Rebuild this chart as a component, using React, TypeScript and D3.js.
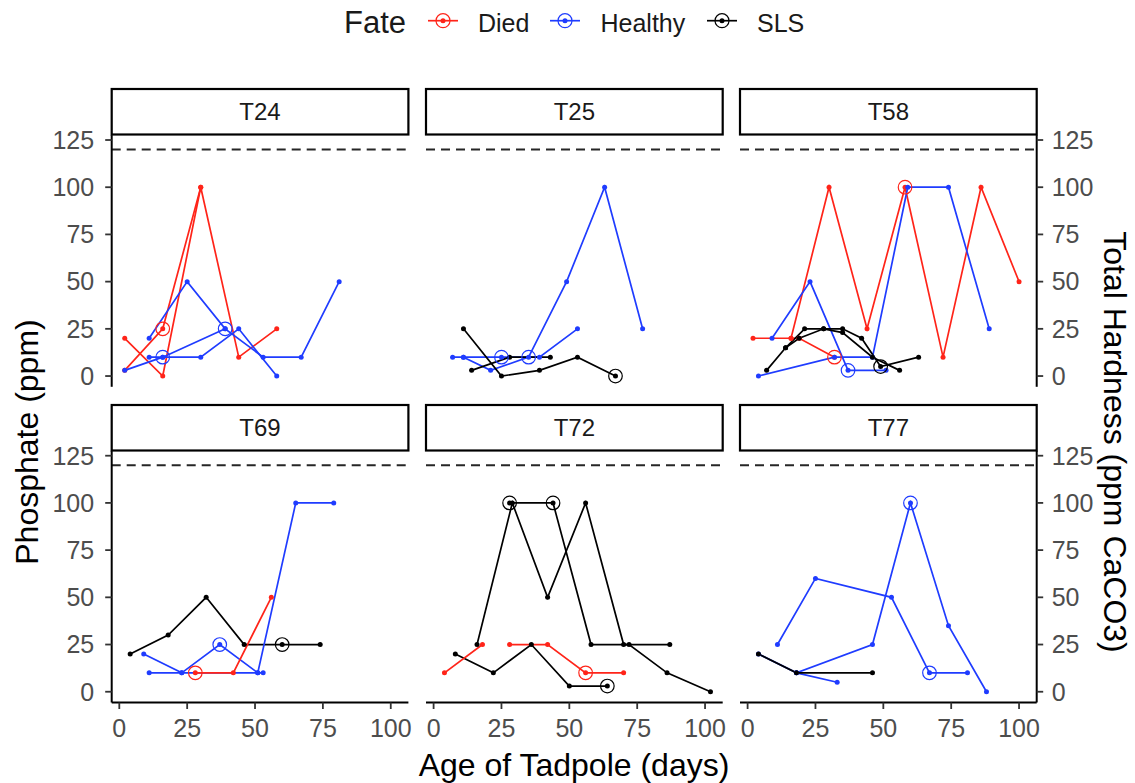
import React from "react";
import * as d3 from "d3";

type Pt = [number, number];
interface Track { fate: string; pts: Pt[] }
interface Mark { fate: string; pt: Pt }

// Facet labels and legend categories
const panels = ["T24", "T25", "T58", "T69", "T72", "T77"];
const fates = ["Died", "Healthy", "SLS"];
const fateColors: Record<string, string> = { Died: "#ff2419", Healthy: "#1f3cff", SLS: "#000000" };

const xTicks = [0, 25, 50, 75, 100];
const yTicks = [0, 25, 50, 75, 100, 125];
const limitLine = 120;

// Phosphate readings (age in days, ppm) per tadpole, grouped by tank
const tracksT24: Track[] = [
  { fate: "Died", pts: [[2, 20], [16, 0], [30, 100], [44, 10], [58, 25]] },
  { fate: "Died", pts: [[2, 3], [16, 25], [30, 100]] },
  { fate: "Healthy", pts: [[11, 20], [25, 50], [39, 25], [53, 10], [67, 10], [81, 50]] },
  { fate: "Healthy", pts: [[2, 3], [16, 10], [39, 25]] },
  { fate: "Healthy", pts: [[11, 10], [16, 10], [30, 10], [44, 25], [58, 0]] },
];
const tracksT25: Track[] = [
  { fate: "Healthy", pts: [[7, 10], [11, 10], [25, 10], [39, 10], [53, 25]] },
  { fate: "Healthy", pts: [[11, 10], [21, 3], [35, 10], [49, 50], [63, 100], [77, 25]] },
  { fate: "SLS", pts: [[11, 25], [25, 0], [39, 3], [53, 10], [67, 0]] },
  { fate: "SLS", pts: [[14, 3], [28, 10], [43, 10]] },
];
const tracksT58: Track[] = [
  { fate: "Died", pts: [[2, 20], [16, 20], [30, 100], [44, 25], [58, 100], [72, 10], [86, 100], [100, 50]] },
  { fate: "Died", pts: [[16, 20], [19, 20], [32, 10]] },
  { fate: "Healthy", pts: [[4, 0], [32, 10], [46, 10], [59, 100], [74, 100], [89, 25]] },
  { fate: "Healthy", pts: [[9, 20], [23, 50], [37, 3], [51, 3]] },
  { fate: "SLS", pts: [[7, 3], [14, 15], [21, 25], [28, 25], [35, 25], [42, 20], [49, 5], [63, 10]] },
  { fate: "SLS", pts: [[14, 15], [19, 20], [28, 25], [35, 23], [46, 10], [56, 3]] },
];
const tracksT69: Track[] = [
  { fate: "SLS", pts: [[4, 20], [18, 30], [32, 50], [46, 25], [60, 25], [74, 25]] },
  { fate: "Healthy", pts: [[9, 20], [23, 10], [37, 25], [51, 10], [53, 10]] },
  { fate: "Healthy", pts: [[11, 10], [23, 10], [51, 10], [65, 100], [79, 100]] },
  { fate: "Died", pts: [[28, 10], [42, 10], [56, 50]] },
];
const tracksT72: Track[] = [
  { fate: "SLS", pts: [[16, 25], [29, 100], [42, 50], [56, 100], [70, 25], [87, 25]] },
  { fate: "SLS", pts: [[28, 100], [44, 100], [58, 25], [72, 25], [86, 10], [102, 0]] },
  { fate: "SLS", pts: [[8, 20], [22, 10], [36, 25], [50, 3], [64, 3]] },
  { fate: "Died", pts: [[4, 10], [18, 25]] },
  { fate: "Died", pts: [[28, 25], [42, 25], [56, 10], [70, 10]] },
];
const tracksT77: Track[] = [
  { fate: "Healthy", pts: [[11, 25], [25, 60], [53, 50], [67, 10], [81, 10]] },
  { fate: "Healthy", pts: [[4, 20], [18, 10], [46, 25], [60, 100], [74, 35], [88, 0]] },
  { fate: "Healthy", pts: [[18, 10], [33, 5]] },
  { fate: "SLS", pts: [[4, 20], [18, 10], [46, 10]] },
];

// Readings flagged with an open ring
const ringsT24: Mark[] = [
  { fate: "Died", pt: [16, 25] },
  { fate: "Healthy", pt: [16, 10] },
  { fate: "Healthy", pt: [39, 25] },
];
const ringsT25: Mark[] = [
  { fate: "Healthy", pt: [25, 10] },
  { fate: "Healthy", pt: [35, 10] },
  { fate: "SLS", pt: [67, 0] },
];
const ringsT58: Mark[] = [
  { fate: "Died", pt: [58, 100] },
  { fate: "Died", pt: [32, 10] },
  { fate: "Healthy", pt: [37, 3] },
  { fate: "SLS", pt: [49, 5] },
];
const ringsT69: Mark[] = [
  { fate: "Died", pt: [28, 10] },
  { fate: "Healthy", pt: [37, 25] },
  { fate: "SLS", pt: [60, 25] },
];
const ringsT72: Mark[] = [
  { fate: "SLS", pt: [28, 100] },
  { fate: "SLS", pt: [44, 100] },
  { fate: "SLS", pt: [64, 3] },
  { fate: "Died", pt: [56, 10] },
];
const ringsT77: Mark[] = [
  { fate: "Healthy", pt: [60, 100] },
  { fate: "Healthy", pt: [67, 10] },
];

const panelTracks = [tracksT24, tracksT25, tracksT58, tracksT69, tracksT72, tracksT77];
const panelRings = [ringsT24, ringsT25, ringsT58, ringsT69, ringsT72, ringsT77];

// Layout
const W = 1135;
const H = 783;
const FONT = "'Liberation Sans', Arial, Helvetica, sans-serif";
const colLeft = [111.7, 426, 740];
const panelW = 296.7;
const stripTop = [89, 405];
const stripH = 45.5;
const panelTop = [135.1, 450.8];
const panelBottom = [386.8, 702.5];
const xDomain: [number, number] = [-2.8, 106.5];
const yDomain: [number, number] = [-5.7, 127.6];

const tickColor = "#333333";
const tickText = "#4d4d4d";
const tickSize = 25;
const titleSize = 32;

function Panel({ idx }: { idx: number }) {
  const col = idx % 3;
  const row = Math.floor(idx / 3);
  const x = d3.scaleLinear().domain(xDomain).range([colLeft[col], colLeft[col] + panelW]);
  const y = d3.scaleLinear().domain(yDomain).range([panelBottom[row], panelTop[row]]);
  const line = d3
    .line<Pt>()
    .x((d) => x(d[0]))
    .y((d) => y(d[1]));
  const tracks = panelTracks[idx];
  const rings = panelRings[idx];
  const x0 = colLeft[col];
  const x1 = colLeft[col] + panelW;
  const bottomRow = row === 1;

  return (
    <g>
      {/* strip */}
      <rect
        x={x0}
        y={stripTop[row]}
        width={panelW}
        height={stripH}
        fill="#ffffff"
        stroke="#000000"
        strokeWidth={2.2}
      />
      <text
        x={(x0 + x1) / 2}
        y={stripTop[row] + stripH / 2 + 8.5}
        textAnchor="middle"
        fontSize={24}
        fill="#1a1a1a"
        fontFamily={FONT}
      >
        {panels[idx]}
      </text>

      {/* reference line */}
      <line
        x1={x0}
        x2={x1}
        y1={y(limitLine)}
        y2={y(limitLine)}
        stroke="#262626"
        strokeWidth={2}
        strokeDasharray="9,6"
      />

      {/* tracks */}
      {tracks.map((t, i) => (
        <path key={"l" + i} d={line(t.pts) || ""} fill="none" stroke={fateColors[t.fate]} strokeWidth={1.7} />
      ))}
      {tracks.map((t, i) =>
        t.pts.map((p, j) => (
          <circle key={"p" + i + "-" + j} cx={x(p[0])} cy={y(p[1])} r={2.5} fill={fateColors[t.fate]} />
        ))
      )}
      {rings.map((m, i) => (
        <circle
          key={"r" + i}
          cx={x(m.pt[0])}
          cy={y(m.pt[1])}
          r={6.8}
          fill="none"
          stroke={fateColors[m.fate]}
          strokeWidth={1.2}
        />
      ))}

      {/* left axis */}
      {col === 0 && (
        <g>
          <line x1={x0} x2={x0} y1={panelTop[row]} y2={panelBottom[row]} stroke="#000" strokeWidth={2} />
          {yTicks.map((t) => (
            <g key={"yl" + t}>
              <line x1={x0 - 6.5} x2={x0} y1={y(t)} y2={y(t)} stroke={tickColor} strokeWidth={1.8} />
              <text
                x={x0 - 17.5}
                y={y(t) + 8.8}
                textAnchor="end"
                fontSize={tickSize}
                fill={tickText}
                fontFamily={FONT}
              >
                {t}
              </text>
            </g>
          ))}
        </g>
      )}
      {/* right axis */}
      {col === 2 && (
        <g>
          <line x1={x1} x2={x1} y1={panelTop[row]} y2={panelBottom[row]} stroke="#000" strokeWidth={2} />
          {yTicks.map((t) => (
            <g key={"yr" + t}>
              <line x1={x1} x2={x1 + 6.5} y1={y(t)} y2={y(t)} stroke={tickColor} strokeWidth={1.8} />
              <text x={x1 + 15} y={y(t) + 8.8} textAnchor="start" fontSize={tickSize} fill={tickText} fontFamily={FONT}>
                {t}
              </text>
            </g>
          ))}
        </g>
      )}
      {/* bottom axis */}
      {bottomRow && (
        <g>
          <line x1={x0} x2={x1} y1={panelBottom[row]} y2={panelBottom[row]} stroke="#000" strokeWidth={2} />
          {xTicks.map((t) => (
            <g key={"x" + t}>
              <line
                x1={x(t)}
                x2={x(t)}
                y1={panelBottom[row]}
                y2={panelBottom[row] + 6.5}
                stroke={tickColor}
                strokeWidth={1.8}
              />
              <text
                x={x(t)}
                y={panelBottom[row] + 34.5}
                textAnchor="middle"
                fontSize={tickSize}
                fill={tickText}
                fontFamily={FONT}
              >
                {t}
              </text>
            </g>
          ))}
        </g>
      )}
    </g>
  );
}

function Legend() {
  const keyX = [428, 550, 707];
  const labelX = [478, 600.5, 757];
  const cy = 20.7;
  return (
    <g fontFamily={FONT}>
      <text x={344} y={33} fontSize={31} fill="#1a1a1a">
        Fate
      </text>
      {fates.map((f, i) => (
        <g key={f}>
          <line x1={keyX[i]} x2={keyX[i] + 30} y1={cy} y2={cy} stroke={fateColors[f]} strokeWidth={1.7} />
          <circle cx={keyX[i] + 15} cy={cy} r={2.5} fill={fateColors[f]} />
          <circle cx={keyX[i] + 15} cy={cy} r={7} fill="none" stroke={fateColors[f]} strokeWidth={1.2} />
          <text x={labelX[i]} y={31.7} fontSize={25} fill="#1a1a1a">
            {f}
          </text>
        </g>
      ))}
    </g>
  );
}

export default function App() {
  return (
    <div style={{ position: "fixed", left: 0, top: 0 }}>
      <svg width={W} height={H} viewBox={`0 0 ${W} ${H}`} style={{ display: "block", background: "#fff" }}>
        <rect x={0} y={0} width={W} height={H} fill="#ffffff" />
        <Legend />
        {panels.map((_, i) => (
          <Panel key={i} idx={i} />
        ))}
        <text
          x={574}
          y={776}
          textAnchor="middle"
          fontSize={titleSize}
          fill="#000"
          fontFamily={FONT}
        >
          Age of Tadpole (days)
        </text>
        <text
          transform="translate(38,442) rotate(-90)"
          textAnchor="middle"
          fontSize={titleSize}
          fill="#000"
          fontFamily={FONT}
        >
          Phosphate (ppm)
        </text>
        <text
          transform="translate(1104,442) rotate(90)"
          textAnchor="middle"
          fontSize={titleSize}
          fill="#000"
          fontFamily={FONT}
        >
          Total Hardness (ppm CaCO3)
        </text>
      </svg>
    </div>
  );
}
